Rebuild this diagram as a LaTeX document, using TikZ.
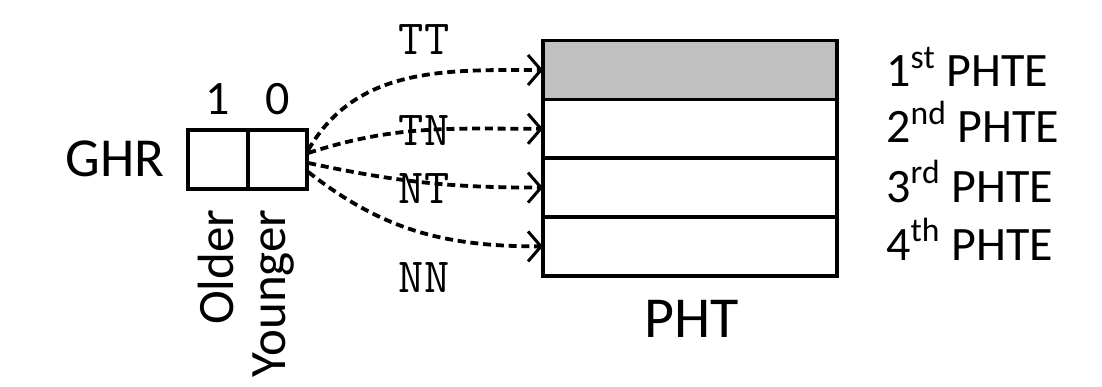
\documentclass[tikz,border=0pt]{standalone}
\usepackage{fontspec}
\setmainfont{Carlito}
\usepackage{tikz}
\usetikzlibrary{arrows.meta,positioning,calc}
\definecolor{PHGray}{HTML}{C0C0C0}
\definecolor{PHInk}{HTML}{000000}
\tikzset{
  phcell/.style={draw=PHInk, line width=1.8pt, outer sep=0pt, inner sep=0pt,
    minimum width=29.75pt, minimum height=29.5pt},
  phrow/.style={draw=PHInk, line width=1.8pt, outer sep=0pt, inner sep=0pt,
    minimum width=147pt, minimum height=29.4pt},
  phlabel/.style={font=\fontsize{24pt}{28pt}\selectfont, inner sep=0pt},
  phside/.style={font=\fontsize{25.5pt}{30pt}\selectfont, inner sep=0pt},
  phcode/.style={font=\ttfamily\fontsize{24.5pt}{28pt}\selectfont, inner sep=0pt},
  pharrow/.style={line width=1.9pt, dash pattern=on 4pt off 2.4pt,
    -{Straight Barb[length=6.5pt,width=15pt,line width=1.5pt]}}
}
\begin{document}
\begin{tikzpicture}[x=0.5pt,y=0.5pt]
  \useasboundingbox (0,0) rectangle (1102,386);

  % global history register
  \node[phcell] (older) at (218,226.5) {};
  \node[phcell, right=0pt of older] (younger) {};
  \node[font=\fontsize{27.5pt}{32pt}\selectfont, inner sep=0pt, anchor=base] (ghr) at (115,209) {GHR};
  \node[phlabel, anchor=base] (bitone) at (218,271) {1};
  \node[phlabel, anchor=base] (bitzero) at (278,271) {0};
  \node[phside, rotate=90, anchor=base east] (oldlbl) at (233,177) {Older};
  \node[phside, rotate=90, anchor=base east] (younglbl) at (285,177) {Younger};

  % pattern history table
  \node[phrow, fill=PHGray] (pte1) at (690,316) {};
  \node[phrow, below=0pt of pte1] (pte2) {};
  \node[phrow, below=0pt of pte2] (pte3) {};
  \node[phrow, below=0pt of pte3] (pte4) {};
  \node[font=\fontsize{29pt}{34pt}\selectfont, inner sep=0pt, anchor=base] (pht) at (692,49) {PHT};

  \node[phlabel, anchor=base west] (name1) at (886,299) {1\textsuperscript{st} PHTE};
  \node[phlabel, anchor=base west] (name2) at (886,243) {2\textsuperscript{nd} PHTE};
  \node[phlabel, anchor=base west] (name3) at (886,184) {3\textsuperscript{rd} PHTE};
  \node[phlabel, anchor=base west] (name4) at (886,126) {4\textsuperscript{th} PHTE};

  % history patterns
  \node[phcode, anchor=base] (tt) at (424,331) {TT};
  \node[phcode, anchor=base] (tn) at (424,241) {TN};
  \node[phcode, anchor=base] (nt) at (424,183) {NT};
  \node[phcode, anchor=base] (nn) at (424,94) {NN};

  \draw[pharrow] ($(younger.east)+(1,9.5)$) to[out=60,in=180] (pte1.west);
  \draw[pharrow] ($(younger.east)+(1,6.5)$) to[out=18,in=180] (pte2.west);
  \draw[pharrow] ($(younger.east)+(1,-3.5)$) to[out=-12,in=180] (pte3.west);
  \draw[pharrow] ($(younger.east)+(1,-12.5)$) to[out=-38,in=180] (pte4.west);
\end{tikzpicture}
\end{document}
